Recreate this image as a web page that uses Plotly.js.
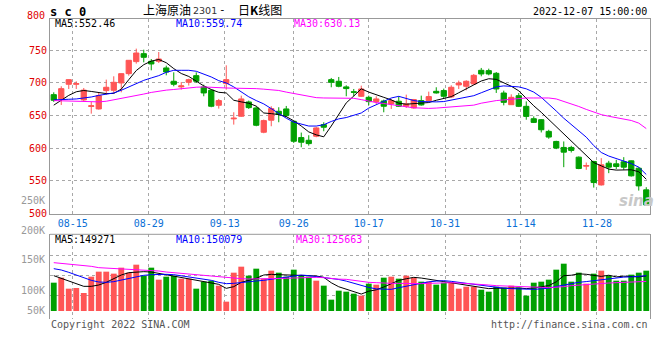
<!DOCTYPE html>
<html><head><meta charset="utf-8">
<script src="https://cdn.plot.ly/plotly-3.0.1.min.js"></script>
<style>html,body{margin:0;padding:0;background:#fff}#chart{width:660px;height:360px}</style>
</head><body><div id="chart"></div>
<script>
// ---- data ----
const dates = ['08-10','08-11','08-12','08-15','08-16','08-17','08-18','08-19','08-22','08-23','08-24','08-25','08-26','08-29','08-30','08-31',
 '09-01','09-02','09-05','09-06','09-07','09-08','09-09','09-13','09-14','09-15','09-16','09-19','09-20','09-21','09-22','09-23','09-26','09-27','09-28','09-29','09-30',
 '10-10','10-11','10-12','10-13','10-14','10-17','10-18','10-19','10-20','10-21','10-24','10-25','10-26','10-27','10-28','10-31',
 '11-01','11-02','11-03','11-04','11-07','11-08','11-09','11-10','11-11','11-14','11-15','11-16','11-17','11-18','11-21','11-22','11-23','11-24','11-25','11-28','11-29','11-30',
 '12-01','12-02','12-05','12-06','12-07'];
const open = [682.1,675.5,698,698,674,664,660.2,688.3,688.8,700,714.3,732.7,744.9,733.2,733.2,723,702.6,694,701,711.2,693.9,688.8,665.8,699,645,649,670.9,661.7,624.5,642.9,656.6,660.2,641.3,616.3,612.2,618.4,636.2,705.1,702.6,694,686.5,679.6,678,671.4,672.4,667.9,672,664.3,661.7,673,673,687.2,688.3,678.6,697,694.9,698.5,719.4,718.9,714.8,684.6,666.7,680.5,664.2,645.2,643.7,625.8,610.4,601.2,601.2,586.3,572.5,579.7,543.8,577.1,576.1,579.2,580.7,569.4,536.2];
const high = [685.7,694.9,705.5,702.5,692.3,670.9,684.7,705.1,710.2,714.8,735,752.6,751,736.7,747.4,726.5,716.3,701.5,706.6,716.3,697.4,689.8,675.5,727,655.1,680.6,673,664.3,643.9,664.3,662.8,664.8,642.3,624,619.9,632.7,639.8,707.7,709.2,696.4,690.8,695.9,680.6,679.6,674.5,675.5,679.6,682.1,675.5,680.6,686.7,693.4,691.3,696.4,703.6,704.1,713.8,723,721.9,716.8,688.2,682.6,684.6,671.8,648.8,644.7,628.3,611.4,610.4,603.7,587.4,578.1,580.7,584.8,580.7,582.2,586.3,581.2,571,540.3];
const low = [671,666.3,690.8,690.8,671.4,653,659.2,682.1,684.7,685.7,711.2,729.6,731.6,719.4,730.6,711.7,694.9,689.8,696,700,679.6,662.8,660.7,689.8,636.2,648,660.2,633.7,623,633.7,639.8,648,608.2,601.5,604,616.8,626,693.4,693.4,679.6,679.6,678.6,665.8,667.9,655.1,660.2,663.3,661.7,660.7,665.3,671.9,683.7,676.9,676.9,690.8,688.8,697.4,710.2,711.7,684.7,665.7,666.7,663.1,643.7,638.6,624.2,614.5,598.6,571,593.5,567.9,566.9,539.7,542.8,561.8,567.9,566.9,556.6,535.1,512.1];
const close = [673.5,691.3,705.1,699,689,665,680.6,693.4,701,714.3,734.7,745.9,739.3,729.1,736.7,716.8,698,695.5,705.1,702.6,684.7,664.3,673,705.1,646,675.5,662.2,635.2,642.3,660.7,652,650,610.7,609.2,607.1,631.1,632.2,701,694.9,691.4,685.8,690.8,671.4,675.5,664.3,673,664.3,667.9,674.5,666.3,679.1,684.7,679.6,693.4,700,702.6,711.7,713.8,713.8,690.8,670.3,678,664.2,648.8,639.6,628.3,617.1,600.2,594,596.6,568.9,573.5,547.4,574.6,571,572,571,557.7,542.3,513.1];
const ma5 = [666,673,681,686.5,688.5,687,685,683.7,684,690.5,705,719,728,733.5,736,731,722,714.5,710,702.5,695.5,690,685.7,684.7,673.5,671,669,664.5,654,653,651.5,648.5,642,634,625,620.5,617.5,634,651,669.5,680,691,686,682.5,678,674,669,667.5,668,668.5,670,673.5,676,679,685,690.5,697,703,706.5,705.5,700.5,695,688,676,665,655,644,632,621,611,599,588,578,573,568,566.5,566.5,567,564,552.46];
const ma10 = [674,675,675,675.5,676.5,678.5,681,683,684.7,688.8,694,699,704,707.7,711.2,716.3,719.4,719.4,719.4,717.9,713.8,709.2,703.5,700,694,686.5,678.8,673,667.9,660.7,653.1,646,640,637,634,634,636,641,645,647,650,654,661.5,667,672.5,677,679.5,676.5,673,671.5,671,671,671.5,673.5,675.5,677.5,680.5,685,689.5,694,695.5,695,694,691,686,678,668,657,646,636,627,617,604,593.5,588,584,580.5,576.5,571,559.74];
const ma30 = [673,672.5,672,672,671.5,671,671,672,674,676,678,680.5,683,685.5,687.5,689,690,691.5,692.5,693.5,693.9,693,692.5,692.3,692,692,691.5,691.3,690.5,689.8,688.5,686,684,682,680,677.5,677,677,677,677,676.5,674.5,672,670,668.5,666.5,665,663.5,662,661,661,661.5,662.5,663,664,664.5,666,669,671.5,673,674,675,676.5,677,677,677,677,675.5,672,668,664,659.5,655,651.5,649,647,645,642.5,638.5,630.13];
// volume in thousands of lots
const volume = [120.4,141.7,94.9,97.7,76.5,145.9,167.2,167.2,158.7,184.2,162.9,196.9,150.2,184.2,133.2,145.9,150.2,137.4,137.4,94.9,124.7,128.9,107.7,39.7,162.9,188.4,150.2,179.9,137.4,171.4,162.9,145.9,175.7,150.2,145.9,128.9,107.7,48.2,86.4,82.2,73.7,65.2,116.2,111.9,141.7,145.9,137.4,150.2,141.7,124.7,124.7,111.9,120.4,120.4,94.9,103.4,103.4,90.7,82.2,103.4,99.2,107.7,99.2,65.2,120.4,124.7,133.2,175.7,201.1,124.7,162.9,116.2,158.7,171.4,150.2,128.9,128.9,154.4,162.9,171.4];
const volMa5 = [150.2,138.8,127.5,113.3,104.8,104.8,110.5,121.8,138.8,153,162.9,165.7,167.2,165.7,160.1,155.8,150.2,144.5,138.8,130.3,124.7,119,113.3,96.3,103.4,121.8,131.7,138.8,153,155.8,154.4,153,153,153,151.6,148.8,143.1,120,103,92,80,72,84,90,102,116,130,137,143,140,136,131,125,120,115,110,108,103,95,97,96,97,98,95,98,103,108,124,150,152,158,156,153,147,152,145,148,147,145,149.271];
const volMa10 = [179.9,174.2,164.3,153,141.7,130.3,123.3,121.8,124.7,131.7,140.3,145.9,151.6,154.4,155.8,155.8,154.4,150.2,145.9,141.7,136,130.3,121.8,116.2,117.6,121.8,124.7,127.5,130.3,134.6,138.8,143.1,148.8,153,150.2,145.9,143.1,138.8,134,127,117,107,100,94,92,92,99,106,113,119,124,127,129,126,122,117,113,108,103,100,97,95,93,91,92,94,97,104,111,118,122,125,129,135,139,142,144,145,147,150.079];
const volMa30 = [205.4,202.6,199.7,196.9,194.1,189.8,184.2,182.7,181.3,178.5,177.1,175.7,172.8,171.4,170,165.7,162.9,160.1,155.8,153,150.2,148.8,143.1,140.3,138.8,137.4,136,136,136,136,137.4,138.8,140.3,141.7,143.1,143.1,141.7,137.4,135.3,134.6,130.3,124.7,121.8,120.4,117.6,117.6,117.6,116.2,116.2,116.2,117.6,119,121.8,120.4,119,117.6,116.2,113.3,110.5,107.7,106.2,103.4,103.4,102,102,100.6,99.2,100.6,103.4,107.7,110.5,113.3,116.2,117.6,119,120.4,121.8,121.8,123.3,125.663];
const tickLabels = ['08-15','08-29','09-13','09-26','10-17','10-31','11-14','11-28'];
const tickPos = [2.54,12.67,22.81,32.01,42.01,52.17,62.27,72.43];
const priceTicks = [500,550,600,650,700,750];
const volGrid = [65,150,235];
const volLabels = ['250K','200K','150K','100K','50K'];
const legendPrice = ['MA5:552.46','MA10:559.74','MA30:630.13'];
const legendVol = ['MA5:149271','MA10:150079','MA30:125663'];

// ---- drawing ----
const idx = dates.map((d,i)=>i);
const RED = '#ff5555', GREEN = '#00a000';
const MONO = 'DejaVu Sans Mono';
const W = 660, H = 360, ML = 50, MR = 10, MT = 19, MB = 41;
const PW = W-ML-MR, PH = H-MT-MB;
const fx = p => (p-ML)/PW;      // pixel -> paper x
const fy = p => (H-MB-p)/PH;    // pixel -> paper y

const traces = [
  {type:'candlestick', x:idx, open:open, high:high, low:low, close:close, xaxis:'x', yaxis:'y',
   increasing:{line:{color:RED,width:1}, fillcolor:RED},
   decreasing:{line:{color:GREEN,width:1}, fillcolor:GREEN},
   whiskerwidth:0, hoverinfo:'skip'},
  {type:'scatter', mode:'lines', x:idx, y:ma5, line:{color:'#000000',width:1}, xaxis:'x', yaxis:'y', hoverinfo:'skip'},
  {type:'scatter', mode:'lines', x:idx, y:ma10, line:{color:'#0000ff',width:1}, xaxis:'x', yaxis:'y', hoverinfo:'skip'},
  {type:'scatter', mode:'lines', x:idx, y:ma30, line:{color:'#ff00ff',width:1}, xaxis:'x', yaxis:'y', hoverinfo:'skip'},
  {type:'bar', x:idx, y:volume, marker:{color: idx.map(i=> close[i]>=open[i]?RED:GREEN), line:{width:0}}, xaxis:'x2', yaxis:'y2', hoverinfo:'skip'},
  {type:'scatter', mode:'lines', x:idx, y:volMa5, line:{color:'#000000',width:1}, xaxis:'x2', yaxis:'y2', hoverinfo:'skip'},
  {type:'scatter', mode:'lines', x:idx, y:volMa10, line:{color:'#0000ff',width:1}, xaxis:'x2', yaxis:'y2', hoverinfo:'skip'},
  {type:'scatter', mode:'lines', x:idx, y:volMa30, line:{color:'#ff00ff',width:1}, xaxis:'x2', yaxis:'y2', hoverinfo:'skip'}
];

const gridStyle = {showgrid:true, gridcolor:'#a8a8a8', griddash:'dot', gridwidth:1, zeroline:false,
  showline:true, linecolor:'#999999', linewidth:1, mirror:true, ticks:'', fixedrange:true};

function ann(text, xp, yp, xanchor, color, size, extra){
  return Object.assign({text:text, x:fx(xp), y:fy(yp), xref:'paper', yref:'paper', xanchor:xanchor, yanchor:'middle',
    showarrow:false, font:{family:MONO, size:size||10, color:color||'#000'}}, extra||{});
}

const annotations = [
  ann('s c 0', 48, 12.5, 'left', '#000', 12, {font:{family:MONO,size:12,color:'#000',weight:'bold'}}),
  ann('上海原油', 141, 9.5, 'left', '#000', 12, {font:{family:'Noto Sans CJK SC',size:12,color:'#000'}}),
  ann('2301', 190.5, 10.5, 'left', '#333', 9.5, {font:{family:'DejaVu Sans',size:9.5,color:'#333'}}),
  ann('-', 222.5, 9.5, 'center', '#000', 11),
  ann('日<b>K</b>线图', 236, 9.5, 'left', '#000', 12, {font:{family:'Noto Sans CJK SC',size:12,color:'#000'}}),
  ann('2022-12-07 15:00:00', 649, 12, 'right', '#000', 10),
  ann('800', 47, 16, 'right', '#e00000', 10),
  ann(legendPrice[0], 53, 23.5, 'left', '#000000', 10),
  ann(legendPrice[1], 174, 23.5, 'left', '#0000ff', 10),
  ann(legendPrice[2], 292, 23.5, 'left', '#ff00ff', 10),
  ann(volLabels[0], 47, 200.7, 'right', '#999999', 10),
  ann(volLabels[1], 47, 230.3, 'right', '#999999', 10),
  ann(volLabels[2], 47, 259.7, 'right', '#999999', 10),
  ann(volLabels[3], 47, 290.7, 'right', '#999999', 10),
  ann(volLabels[4], 47, 310.7, 'right', '#999999', 10),
  ann(legendVol[0], 53, 239, 'left', '#000000', 10),
  ann(legendVol[1], 174, 239, 'left', '#0000ff', 10),
  ann(legendVol[2], 294, 239, 'left', '#ff00ff', 10),
  ann('Copyright 2022 SINA.COM', 49, 324, 'left', '#555555', 10),
  ann('http://finance.sina.com.cn', 650, 324, 'right', '#555555', 10),
  ann('sina', 636, 201, 'center', '#c4c4c4', 15, {font:{family:'DejaVu Sans',size:15,color:'#c8c8c8',style:'italic',weight:'bold'}})
];

const VOL_BASE_PX = 311, VOL_TOP_PX = 234.3, VOL_BOT_PX = H-MB, VOL_SCALE = 0.2353; // px per K
const layout = {
  width:W, height:H, margin:{l:ML, r:MR, t:MT, b:MB, pad:0},
  paper_bgcolor:'#ffffff', plot_bgcolor:'#ffffff', showlegend:false,
  boxgap:0.3, boxgroupgap:0, bargap:0.22, hovermode:false,
  xaxis: Object.assign({}, gridStyle, {domain:[0,1], anchor:'y', range:[-0.5,79.5],
     tickmode:'array', tickvals:tickPos, ticktext:tickLabels,
     tickfont:{family:MONO,size:10,color:'#0a6fd6'}, rangeslider:{visible:false}}),
  yaxis: Object.assign({}, gridStyle, {domain:[fy(213.5),1], anchor:'x', range:[500,798],
     tickmode:'array', tickvals:priceTicks, tickfont:{family:MONO,size:10,color:'#e00000'}}),
  xaxis2: Object.assign({}, gridStyle, {domain:[0,1], anchor:'y2', range:[-0.5,79.5],
     tickmode:'array', tickvals:tickPos, showticklabels:false, showline:false}),
  yaxis2: Object.assign({}, gridStyle, {domain:[0,fy(VOL_TOP_PX)], anchor:'x2',
     range:[-(VOL_BOT_PX-VOL_BASE_PX)/VOL_SCALE, (VOL_BASE_PX-VOL_TOP_PX)/VOL_SCALE],
     tickmode:'array', tickvals:volGrid, showticklabels:false}),
  shapes:[{type:'line', xref:'x2 domain', yref:'y2 domain', x0:0, x1:1, y0:1, y1:1, line:{color:'#999999', width:1}}],
  annotations: annotations
};

Plotly.newPlot('chart', traces, layout, {staticPlot:true, displayModeBar:false});
</script>
</body></html>
